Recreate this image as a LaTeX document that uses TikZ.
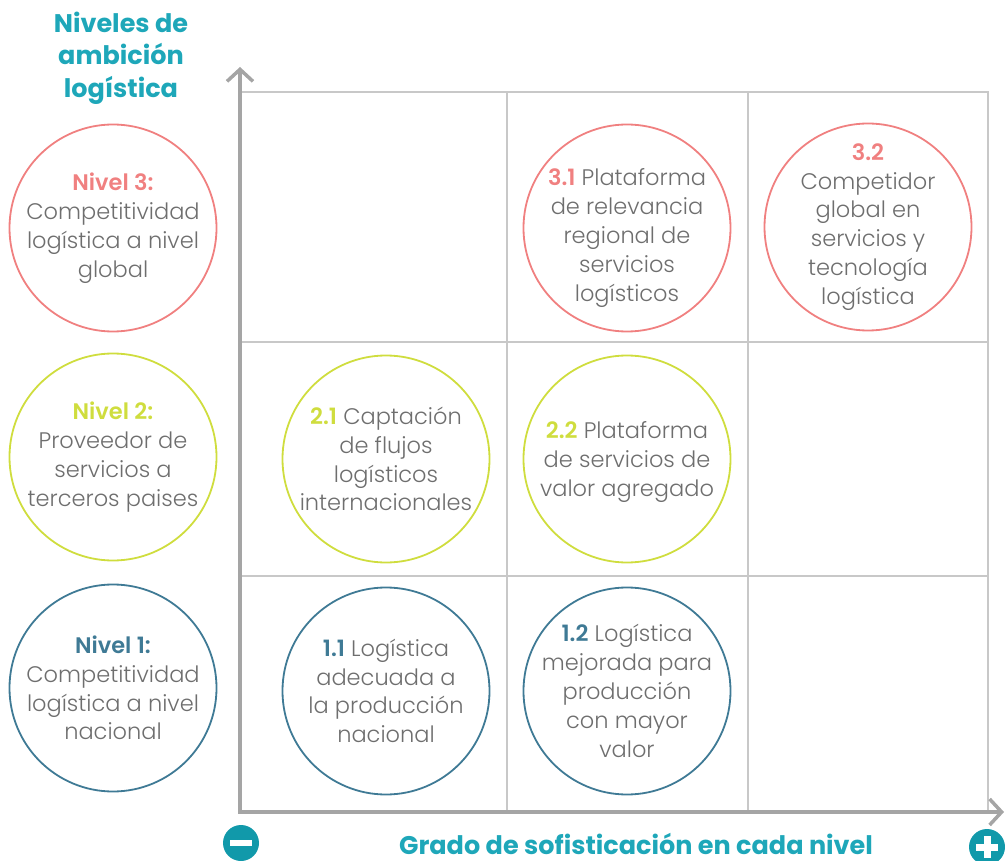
\documentclass[tikz,border=0pt]{standalone}
\usepackage{fontspec}
\setmainfont{Poppins}[UprightFont=* Light, BoldFont=* SemiBold]
\newfontfamily\headfont{Poppins}[UprightFont=* Bold]
\usetikzlibrary{arrows.meta}
\definecolor{rojo}{HTML}{F08080}
\definecolor{lima}{HTML}{CFDD3E}
\definecolor{azul}{HTML}{3F7A95}
\definecolor{teal}{HTML}{1EA7B9}
\definecolor{tealsym}{HTML}{1199AA}
\definecolor{txt}{HTML}{6E6E6E}
\definecolor{grid}{HTML}{C8C8C8}
\definecolor{axis}{HTML}{A5A5A5}
\tikzset{
  ring/.style={circle, draw=#1, line width=1.8pt, minimum size=207pt, inner sep=0pt},
  ringtext/.style={inner sep=0pt, align=center, text=txt, font=\fontsize{22.5}{28.8}\selectfont},
  gridline/.style={draw=grid, line width=1.3pt},
  axisline/.style={draw=axis, line width=3.5pt, -{Straight Barb[length=12pt,width=26pt,line width=3.5pt]}},
  heading/.style={text=teal, font=\fontsize{25.5}{32.5}\selectfont\headfont, align=center},
  sym/.style={circle, fill=tealsym, minimum size=36pt, inner sep=0pt}
}
\begin{document}
\begin{tikzpicture}[x=1pt,y=-1pt]
\useasboundingbox (0,0) rectangle (1005,861);
% grid
\draw[gridline] (240,92) rectangle (988,812);
\draw[gridline] (507,92) -- (507,812);
\draw[gridline] (748,92) -- (748,812);
\draw[gridline] (240,342) -- (988,342);
\draw[gridline] (240,576) -- (988,576);
% axes
\coordinate (o) at (240,812);
\coordinate (ytip) at (240,67);
\coordinate (xtip) at (1004,812);
\draw[axisline, line cap=rect] (o) -- (ytip);
\draw[axisline] (o) -- (xtip);
% headings
\node[heading] (ttl) at (121,58) {Niveles de\\ambición\\logística};
\node[heading, font=\fontsize{25.5}{30}\selectfont\headfont, anchor=base] (xl) at (636,854) {Grado de sofisticación en cada nivel};
% symbols
\node[sym] (minus) at (241,843) {};
\fill[white] ([xshift=-11pt,yshift=-3pt]minus.center) rectangle ([xshift=11pt,yshift=3pt]minus.center);
\node[sym] (plus) at (987,847) {};
\fill[white] ([xshift=-11pt,yshift=-3.5pt]plus.center) rectangle ([xshift=11pt,yshift=3.5pt]plus.center);
\fill[white] ([xshift=-3.5pt,yshift=-11pt]plus.center) rectangle ([xshift=3.5pt,yshift=11pt]plus.center);
% level circles
\node[ring=rojo] (n3) at (113,228) {};
\node[ringtext] (n3t) at (n3) {\textcolor{rojo}{\bfseries Nivel 3:}\\Competitividad\\logística a nivel\\global};
\node[ring=lima] (n2) at (113,457) {};
\node[ringtext] (n2t) at (n2) {\textcolor{lima}{\bfseries Nivel 2:}\\Proveedor de\\servicios a\\terceros paises};
\node[ring=azul] (n1) at (113,688) {};
\node[ringtext] (n1t) at (n1) {\textcolor{azul}{\bfseries Nivel 1:}\\Competitividad\\logística a nivel\\nacional};
% matrix circles
\node[ring=rojo] (c31) at (627,228) {};
\node[ringtext] (c31t) at ([yshift=-10pt]c31) {\textcolor{rojo}{\bfseries 3.1} Plataforma\\de relevancia\\regional de\\servicios\\logísticos};
\node[ring=rojo] (c32) at (868,227) {};
\node[ringtext] (c32t) at (c32) {\textcolor{rojo}{\bfseries 3.2}\\Competidor\\global en\\servicios y\\tecnología\\logística};
\node[ring=lima] (c21) at (386,459) {};
\node[ringtext] (c21t) at (c21) {\textcolor{lima}{\bfseries 2.1} Captación\\de flujos\\logísticos\\internacionales};
\node[ring=lima] (c22) at (627,459) {};
\node[ringtext] (c22t) at ([yshift=-3pt]c22) {\textcolor{lima}{\bfseries 2.2} Plataforma\\de servicios de\\valor agregado};
\node[ring=azul] (c11) at (386,691) {};
\node[ringtext] (c11t) at (c11) {\textcolor{azul}{\bfseries 1.1} Logística\\adecuada a\\la producción\\nacional};
\node[ring=azul] (c12) at (627,691) {};
\node[ringtext] (c12t) at (c12) {\textcolor{azul}{\bfseries 1.2} Logística\\mejorada para\\producción\\con mayor\\valor};
\end{tikzpicture}
\end{document}
